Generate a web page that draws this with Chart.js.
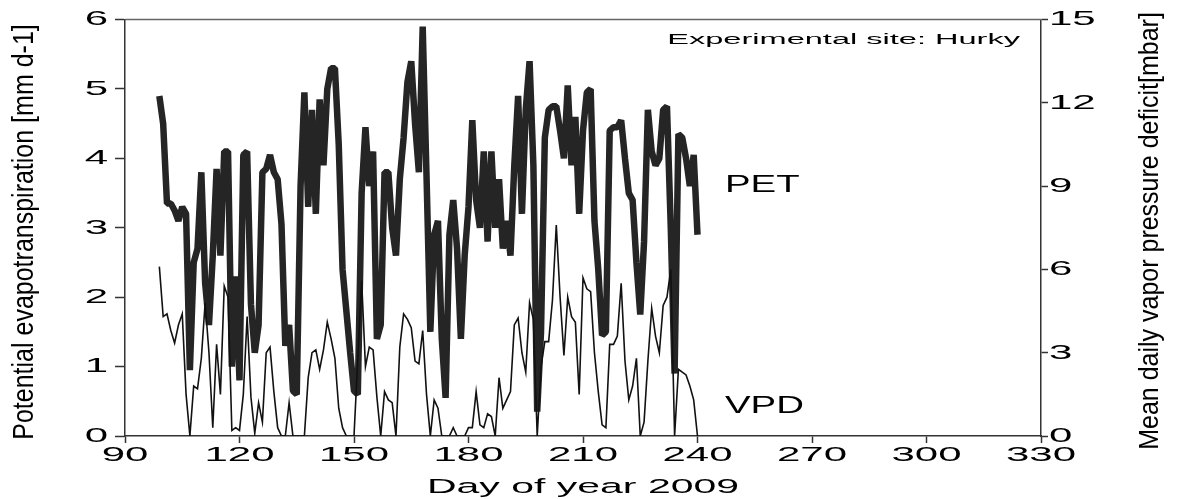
<!DOCTYPE html>
<html>
<head>
<meta charset="utf-8">
<script src="https://cdn.jsdelivr.net/npm/chart.js@4.4.1/dist/chart.umd.min.js"></script>
<style>
  html, body { margin: 0; padding: 0; background: #fff; }
</style>
</head>
<body>
<canvas id="myChart" width="1181" height="499"></canvas>
<script>
const ctx = document.getElementById("myChart").getContext("2d");

// daily values, day 99 .. 240 of 2009
const firstDay = 99;
const pet = [
  4.9, 4.5, 3.35, 3.35, 3.25, 3.1, 3.3, 3.2, 0.95, 2.5,
  2.7, 3.8, 2.2, 1.6, 2.6, 3.85, 2.6, 4.1, 4.1, 1.0,
  2.3, 0.8, 4.05, 4.1, 1.9, 1.2, 1.6, 3.8, 3.85, 4.05,
  3.8, 3.7, 3.05, 1.3, 1.6, 0.65, 0.6, 3.6, 4.95, 3.3,
  4.7, 3.2, 4.85, 3.9, 5.0, 5.3, 5.3, 4.2, 2.4, 1.8,
  1.2, 0.65, 0.6, 3.5, 4.45, 3.6, 4.1, 1.4, 1.6, 3.8,
  3.8, 3.0, 2.6, 3.7, 4.3, 5.1, 5.4, 4.5, 3.8, 5.9,
  3.75, 1.5, 2.9, 3.1, 1.4, 0.55, 2.9, 3.4, 2.7, 1.4,
  2.6, 3.3, 4.55, 3.4, 3.0, 4.1, 2.8, 4.1, 3.0, 3.7,
  2.7, 3.1, 2.6, 3.9, 4.9, 3.2, 4.7, 5.4, 3.9, 0.35,
  1.5, 4.3, 4.7, 4.75, 4.75, 4.4, 4.0, 5.05, 3.9, 4.6,
  3.2, 4.4, 4.95, 5.0, 3.1, 2.4, 1.45, 1.5, 4.4, 4.45,
  4.45, 4.55, 4.0, 3.5, 3.4, 2.5, 1.75, 2.8, 4.7, 4.1,
  3.9, 4.0, 4.7, 4.75, 3.0, 0.9, 4.35, 4.3, 4.0, 3.6,
  4.05, 2.9
];
const vpd = [
  6.1, 4.3, 4.4, 3.8, 3.35, 4.0, 4.4, 1.5, 0.0, 1.8,
  1.7, 2.8, 4.8, 3.0, 0.3, 3.3, 1.5, 5.4, 5.0, 0.2,
  0.3, 0.2, 1.5, 4.3, 1.4, 0.1, 1.2, 0.5, 3.0, 3.2,
  1.6, 0.3, 0.0, 0.0, 1.2, 0.0, 0.0, 0.0, 0.0, 2.1,
  3.0, 3.1, 2.4, 3.1, 4.1, 3.5, 2.8, 1.0, 0.3, 0.0,
  0.0, 0.0, 2.8, 5.6, 2.5, 3.2, 3.1, 1.4, 0.0, 1.6,
  1.3, 1.2, 0.0, 3.2, 4.4, 4.2, 3.9, 2.7, 2.6, 3.8,
  1.5, 0.0, 1.3, 1.0, 0.0, 0.0, 0.0, 0.3, 0.0, 0.0,
  0.0, 0.3, 0.3, 1.6, 0.4, 0.3, 0.8, 0.7, 0.0, 2.1,
  1.0, 1.3, 1.6, 4.0, 4.25, 3.0, 2.3, 4.8, 4.2, 0.0,
  2.5, 3.4, 3.4, 4.9, 7.6, 5.0, 2.9, 5.0, 4.3, 4.1,
  1.5, 5.7, 5.3, 5.2, 3.0, 1.6, 0.4, 0.3, 3.3, 3.3,
  3.6, 5.5, 2.7, 1.3, 1.8, 2.8, 0.0, 0.5, 2.7, 4.6,
  3.6, 3.0, 4.7, 5.0, 6.0, 0.0, 2.4, 2.3, 2.2, 1.8,
  1.3, 0.0
];
const dayTicks = [90, 120, 150, 180, 210, 240, 270, 300, 330];
const petTicks = [0, 1, 2, 3, 4, 5, 6];
const vpdTicks = [0, 3, 6, 9, 12, 15];

const FONT = '"Liberation Sans", Arial, sans-serif';
const axisColor = "#333";

// the reference uses very wide lettering, so text is stretched sideways
let textStretch = 2.0;
const plainFill = CanvasRenderingContext2D.prototype.fillText;
ctx.fillText = function (text, x, y) {
  this.save();
  this.translate(x, y);
  this.scale(textStretch, 1);
  plainFill.call(this, text, 0, 0);
  this.restore();
};

function sideTitle(c, text, x, y, wide) {
  c.save();
  c.translate(x, y);
  c.scale(wide, 1);
  c.rotate(-Math.PI / 2);
  c.fillText(text, 0, 0);
  c.restore();
}

/*------------------------------------------
frame, labels and rotated axis titles
-------------------------------------------*/
const extras = {
  id: "extras",
  afterDraw(chart) {
    const c = chart.ctx;
    const a = chart.chartArea;
    c.save();
    c.strokeStyle = "#666";
    c.lineWidth = 1.5;
    c.beginPath();
    c.moveTo(a.left, a.top);
    c.lineTo(a.right, a.top);
    c.stroke();

    c.fillStyle = "#000";
    c.textBaseline = "alphabetic";
    textStretch = 2.1;
    c.font = "15.5px " + FONT;
    c.textAlign = "right";
    c.fillText("Experimental site: Hurky", 1020, 44);

    textStretch = 1.67;
    c.font = "23px " + FONT;
    c.textAlign = "left";
    c.fillText("PET", 725, 192);
    c.fillText("VPD", 725, 413);

    textStretch = 1;
    c.font = "25px " + FONT;
    c.textAlign = "center";
    c.textBaseline = "middle";
    sideTitle(c, "Potential evapotranspiration [mm d-1]", 25, 232, 1.18);
    sideTitle(c, "Mean daily vapor pressure deficit[mbar]", 1150, 231, 1.12);
    textStretch = 2.0;
    c.restore();
  },
};

const myChart = new Chart(ctx, {
  type: "line",
  data: {
    datasets: [
      {
        label: "VPD",
        data: vpd.map((v, i) => ({ x: firstDay + i, y: v })),
        yAxisID: "y2",
        borderColor: "#111",
        borderWidth: 1.6,
        pointRadius: 0,
        tension: 0,
      },
      {
        label: "PET",
        data: pet.map((v, i) => ({ x: firstDay + i, y: v })),
        yAxisID: "y",
        borderColor: "#252525",
        borderWidth: 6.5,
        borderJoinStyle: "bevel",
        pointRadius: 0,
        tension: 0,
      },
    ],
  },
  options: {
    responsive: false,
    animation: false,
    layout: { padding: { top: 19 } },
    plugins: {
      legend: { display: false },
      tooltip: { enabled: false },
    },
    scales: {
      x: {
        type: "linear",
        min: 90,
        max: 330,
        afterBuildTicks: (s) => { s.ticks = dayTicks.map((v) => ({ value: v })); },
        afterFit: (s) => { s.height = 63; },
        ticks: { autoSkip: false, maxRotation: 0, padding: 0, color: "#000", font: { family: FONT, size: 21 } },
        grid: { drawOnChartArea: false, tickLength: 7, tickColor: axisColor, tickWidth: 1.5 },
        border: { color: axisColor, width: 1.5 },
        title: {
          display: true,
          text: "Day of year 2009",
          color: "#000",
          font: { family: FONT, size: 20.5, lineHeight: 1 },
          padding: { top: 0, bottom: 1 },
        },
      },
      y: {
        position: "left",
        min: 0,
        max: 6,
        afterBuildTicks: (s) => { s.ticks = petTicks.map((v) => ({ value: v })); },
        afterFit: (s) => { s.width = 125; },
        ticks: { padding: 7, color: "#000", font: { family: FONT, size: 21 } },
        grid: { drawOnChartArea: false, tickLength: 10, tickColor: axisColor, tickWidth: 1.5 },
        border: { color: axisColor, width: 1.5 },
      },
      y2: {
        position: "right",
        min: 0,
        max: 15,
        afterBuildTicks: (s) => { s.ticks = vpdTicks.map((v) => ({ value: v })); },
        afterFit: (s) => { s.width = 140; },
        ticks: { padding: 1, color: "#000", font: { family: FONT, size: 21 } },
        grid: { drawOnChartArea: false, tickLength: 7, tickColor: axisColor, tickWidth: 1.5 },
        border: { color: axisColor, width: 1.5 },
      },
    },
  },
  plugins: [extras],
});
</script>
</body>
</html>
